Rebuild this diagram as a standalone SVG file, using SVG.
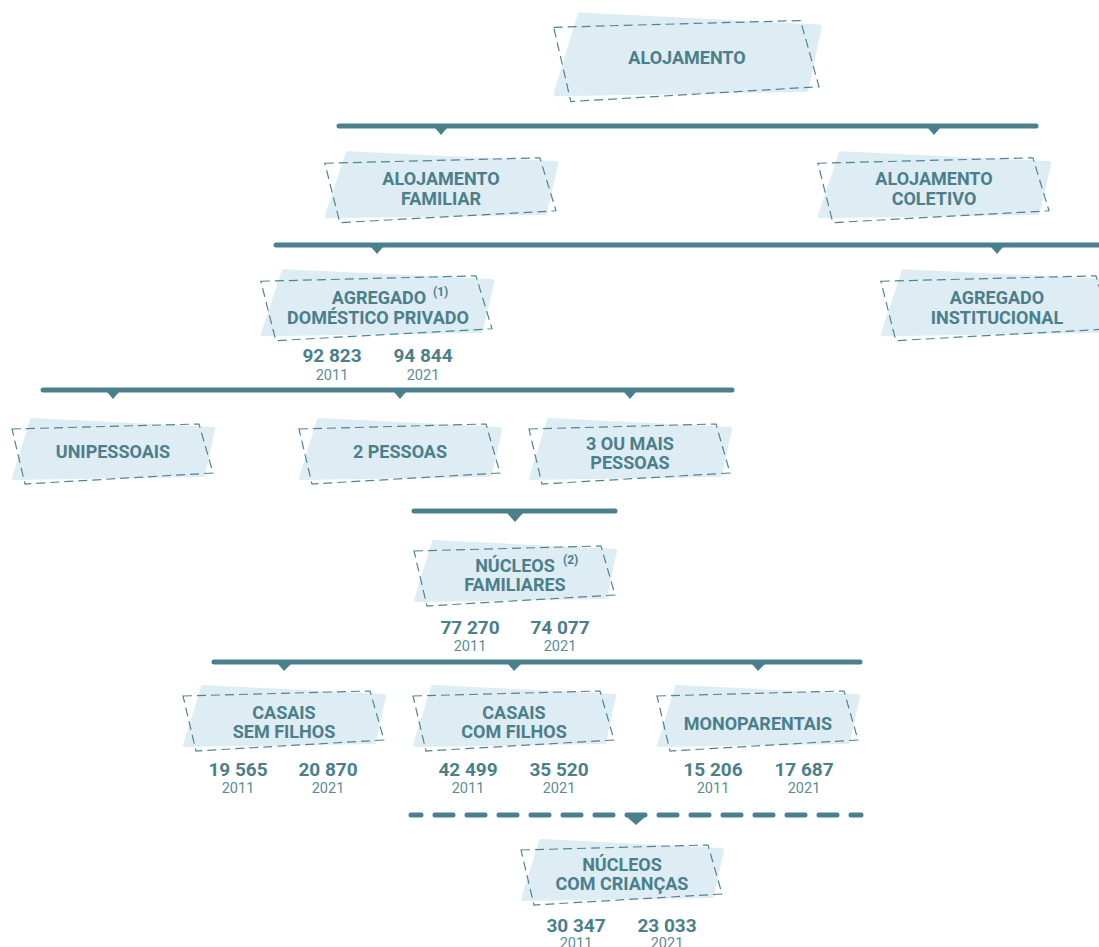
<svg xmlns="http://www.w3.org/2000/svg" xmlns:xlink="http://www.w3.org/1999/xlink" width="1099" height="947" viewBox="0 0 1099 947">
<defs>
<style>
.fill{fill:#deecf3;stroke:#deecf3;stroke-width:4;stroke-linejoin:round}
.dash{fill:none;stroke:#4f8590;stroke-width:1.2;stroke-dasharray:9 5;vector-effect:non-scaling-stroke}
.lbl{font-family:Roboto,"Liberation Sans",sans-serif;font-weight:700;font-size:18px;fill:#4b7f8b;text-anchor:middle}
.sup{font-family:Roboto,"Liberation Sans",sans-serif;font-weight:700;font-size:12px;fill:#4b7f8b}
.num{font-family:Roboto,"Liberation Sans",sans-serif;font-weight:700;font-size:19px;fill:#4b7f8b;text-anchor:middle}
.yr{font-family:Roboto,"Liberation Sans",sans-serif;font-weight:400;font-size:14.5px;fill:#5a8c97;text-anchor:middle}
.bar{fill:none;stroke:#4a808b;stroke-width:5;stroke-linecap:round}
.bard{fill:none;stroke:#4a808b;stroke-width:5;stroke-linecap:round;stroke-dasharray:18 14;stroke-dashoffset:8}
.tri{fill:#4a808b}
</style>
<g id="shape">
<path class="fill" d="M -81,-31 L 100,-22 L 90,24 L -99,27 Z"/>
<path class="dash" d="M -101,-22 L 86,-27 L 100,22 L -88,33 Z"/>
</g>
</defs>

<g id="connectors">
<path class="bar" d="M 339,126 H 1036"/>
<path class="tri" d="M 435,128 L 447,128 L 441,135 Z"/>
<path class="tri" d="M 928,128 L 940,128 L 934,135 Z"/>
<path class="bar" d="M 276,245 H 1105"/>
<path class="tri" d="M 371,247 L 383,247 L 377,254 Z"/>
<path class="tri" d="M 991,247 L 1003,247 L 997,254 Z"/>
<path class="bar" d="M 43,390 H 732"/>
<path class="tri" d="M 107,392 L 119,392 L 113,399 Z"/>
<path class="tri" d="M 394,392 L 406,392 L 400,399 Z"/>
<path class="tri" d="M 624,392 L 636,392 L 630,399 Z"/>
<path class="bar" d="M 414,511 H 615"/>
<path class="tri" d="M 507,513 L 523,513 L 515,522 Z"/>
<path class="bar" d="M 214,662 H 860"/>
<path class="tri" d="M 278,664 L 291,664 L 284,671 Z"/>
<path class="tri" d="M 508,664 L 521,664 L 514,671 Z"/>
<path class="tri" d="M 752,664 L 765,664 L 758,671 Z"/>
<path class="bard" d="M 411,815 H 861"/>
<path class="tri" d="M 627,817 L 645,817 L 636,825 Z"/>
</g>

<g id="n-alojamento">
<use xlink:href="#shape" transform="translate(687,57) scale(1.32,1.35)"/>
<text class="lbl" x="687" y="64">ALOJAMENTO</text>
</g>

<g id="n-aloj-familiar">
<use xlink:href="#shape" transform="translate(441,187) scale(1.15,1.08)"/>
<text class="lbl" x="441" y="185">ALOJAMENTO</text>
<text class="lbl" x="441" y="205">FAMILIAR</text>
</g>

<g id="n-aloj-coletivo">
<use xlink:href="#shape" transform="translate(934,187) scale(1.15,1.08)"/>
<text class="lbl" x="934" y="185">ALOJAMENTO</text>
<text class="lbl" x="934" y="205">COLETIVO</text>
</g>

<g id="n-agregado-privado">
<use xlink:href="#shape" transform="translate(377,305) scale(1.15,1.08)"/>
<text class="lbl" x="379" y="304">AGREGADO</text>
<text class="sup" x="433" y="296">(1)</text>
<text class="lbl" x="378" y="324">DOMÉSTICO PRIVADO</text>
<text class="num" x="332" y="362">92 823</text>
<text class="yr" x="332" y="380">2011</text>
<text class="num" x="423" y="362">94 844</text>
<text class="yr" x="423" y="380">2021</text>
</g>

<g id="n-agregado-institucional">
<use xlink:href="#shape" transform="translate(997,305) scale(1.15,1.08)"/>
<text class="lbl" x="997" y="304">AGREGADO</text>
<text class="lbl" x="997" y="324">INSTITUCIONAL</text>
</g>

<g id="n-unipessoais">
<use xlink:href="#shape" transform="translate(113,451)"/>
<text class="lbl" x="113" y="458">UNIPESSOAIS</text>
</g>

<g id="n-2pessoas">
<use xlink:href="#shape" transform="translate(400,451)"/>
<text class="lbl" x="400" y="458">2 PESSOAS</text>
</g>

<g id="n-3pessoas">
<use xlink:href="#shape" transform="translate(630,451)"/>
<text class="lbl" x="630" y="450">3 OU MAIS</text>
<text class="lbl" x="630" y="469">PESSOAS</text>
</g>

<g id="n-nucleos-familiares">
<use xlink:href="#shape" transform="translate(515,573)"/>
<text class="lbl" x="515" y="572">NÚCLEOS</text>
<text class="sup" x="563" y="564">(2)</text>
<text class="lbl" x="515" y="591">FAMILIARES</text>
<text class="num" x="470" y="634">77 270</text>
<text class="yr" x="470" y="651">2011</text>
<text class="num" x="560" y="634">74 077</text>
<text class="yr" x="560" y="651">2021</text>
</g>

<g id="n-casais-sem">
<use xlink:href="#shape" transform="translate(284,718)"/>
<text class="lbl" x="284" y="719">CASAIS</text>
<text class="lbl" x="284" y="738">SEM FILHOS</text>
<text class="num" x="238" y="776">19 565</text>
<text class="yr" x="238" y="793">2011</text>
<text class="num" x="328" y="776">20 870</text>
<text class="yr" x="328" y="793">2021</text>
</g>

<g id="n-casais-com">
<use xlink:href="#shape" transform="translate(514,718)"/>
<text class="lbl" x="514" y="719">CASAIS</text>
<text class="lbl" x="514" y="738">COM FILHOS</text>
<text class="num" x="468" y="776">42 499</text>
<text class="yr" x="468" y="793">2011</text>
<text class="num" x="559" y="776">35 520</text>
<text class="yr" x="559" y="793">2021</text>
</g>

<g id="n-monoparentais">
<use xlink:href="#shape" transform="translate(758,718)"/>
<text class="lbl" x="758" y="730">MONOPARENTAIS</text>
<text class="num" x="713" y="776">15 206</text>
<text class="yr" x="713" y="793">2011</text>
<text class="num" x="804" y="776">17 687</text>
<text class="yr" x="804" y="793">2021</text>
</g>

<g id="n-nucleos-criancas">
<use xlink:href="#shape" transform="translate(622,872)"/>
<text class="lbl" x="622" y="871">NÚCLEOS</text>
<text class="lbl" x="622" y="890">COM CRIANÇAS</text>
<text class="num" x="576" y="932">30 347</text>
<text class="yr" x="576" y="948">2011</text>
<text class="num" x="667" y="932">23 033</text>
<text class="yr" x="667" y="948">2021</text>
</g>
</svg>
